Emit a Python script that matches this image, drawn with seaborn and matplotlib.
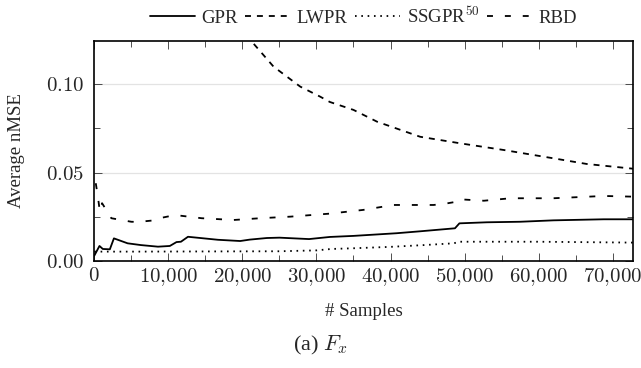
import matplotlib
matplotlib.use("Agg")
import matplotlib.pyplot as plt
import matplotlib.ticker as mticker
import seaborn as sns
import pandas as pd

# values
gpr_x = [0, 700, 1150, 2100, 2650, 4500, 6300, 8600, 10200, 11100, 11700, 12650, 16700,
         19700, 21000, 23300, 25000, 29000, 31800, 35000, 40800, 44000, 48700, 49300,
         53000, 57500, 62000, 68800, 72800]
gpr_y = [0.0030, 0.0085, 0.0068, 0.0066, 0.0128, 0.0100, 0.0090, 0.0081, 0.0085, 0.0107,
         0.0109, 0.0137, 0.0120, 0.0113, 0.0121, 0.0130, 0.0132, 0.0124, 0.0136, 0.0142,
         0.0157, 0.0168, 0.0185, 0.0213, 0.0219, 0.0222, 0.0230, 0.0236, 0.0236]

lwpr_x = [20500, 21300, 24200, 27800, 30500, 31800, 35000, 38200, 44000, 49400, 55300,
          62000, 66500, 72800]
lwpr_y = [0.128, 0.1240, 0.1100, 0.0987, 0.0930, 0.0900, 0.0855, 0.0788, 0.0703, 0.0666,
          0.0628, 0.0581, 0.0549, 0.0522]

ssgpr_x = [0, 5000, 15000, 25000, 30000, 32000, 35000, 40000, 44500, 48500, 49400, 60000,
           72800]
ssgpr_y = [0.0053, 0.0053, 0.0054, 0.0055, 0.0060, 0.0068, 0.0072, 0.0080, 0.0090, 0.0100,
           0.0109, 0.0109, 0.0104]

rbd_x = [200, 500, 750, 1050, 2300, 5000, 5900, 8100, 8800, 10900, 14500, 18800, 22400,
         26500, 31800, 36300, 40400, 45800, 47200, 49000, 49400, 52600, 56200, 62000,
         68800, 72800]
rbd_y = [0.0440, 0.0360, 0.0280, 0.0327, 0.0242, 0.0222, 0.0221, 0.0230, 0.0242, 0.0260,
         0.0242, 0.0232, 0.0242, 0.0251, 0.0268, 0.0289, 0.0317, 0.0317, 0.0323, 0.0336,
         0.0349, 0.0341, 0.0355, 0.0355, 0.0368, 0.0364]

labels = ["GPR", "LWPR", r"SSGPR$^{50}$", "RBD"]

sns.set_theme(style="ticks")
plt.rcParams["font.family"] = ["Liberation Serif", "DejaVu Serif"]
plt.rcParams["mathtext.fontset"] = "cm"

fig = plt.figure(figsize=(6.41, 3.68), dpi=100)
ax = fig.add_axes([0.1471, 0.2908, 0.8411, 0.5978])

lw = 1.3
series = [
    (gpr_x, gpr_y, labels[0], "-"),
    (lwpr_x, lwpr_y, labels[1], (0, (3.3, 3.3))),
    (ssgpr_x, ssgpr_y, labels[2], (0, (0.9, 2.6))),
    (rbd_x, rbd_y, labels[3], (0, (3.3, 6.6))),
]
for xs, ys, name, ls in series:
    df = pd.DataFrame({"x": xs, "y": ys})
    sns.lineplot(data=df, x="x", y="y", ax=ax, color="black", linewidth=lw,
                 linestyle=ls, label=name, legend=False)

ax.set_xlim(0, 72800)
ax.set_ylim(0, 0.1245)

ax.xaxis.set_major_locator(mticker.MultipleLocator(10000))
ax.xaxis.set_minor_locator(mticker.MultipleLocator(5000))
ax.yaxis.set_major_locator(mticker.MultipleLocator(0.05))
ax.yaxis.set_minor_locator(mticker.MultipleLocator(0.025))
ax.xaxis.set_major_formatter(mticker.FuncFormatter(
    lambda v, p: r"$%s$" % ("{:,}".format(int(round(v))).replace(",", "{,}"))))
ax.yaxis.set_major_formatter(mticker.FuncFormatter(lambda v, p: r"$%.2f$" % v))

ax.tick_params(which="both", direction="in", top=True, right=True, color="#333333",
               width=0.6, labelsize=15)
ax.tick_params(axis="y", pad=7.5)
ax.tick_params(axis="x", pad=4)
ax.tick_params(which="major", length=6)
ax.tick_params(which="minor", length=4)
ax.grid(axis="y", which="major", color="#e3e3e3", linewidth=0.9)
ax.set_axisbelow(True)
for s in ax.spines.values():
    s.set_linewidth(1.2)
    s.set_color("black")

ax.set_xlabel("# Samples", fontsize=13.5)
ax.set_ylabel("Average nMSE", fontsize=13.5)
ax.xaxis.set_label_coords(0.5, -0.19)
ax.yaxis.set_label_coords(-0.129, 0.5)

handles, hl = ax.get_legend_handles_labels()
fig.legend(handles, hl, loc="center", bbox_to_anchor=(0.567, 0.955), ncol=4,
           frameon=False, fontsize=13.5, handlelength=2.4, handletextpad=0.35,
           columnspacing=0.4, borderpad=0)

fig.text(0.5, 0.06, r"(a) $F_x$", ha="center", va="center", fontsize=16)

fig.savefig("out.png", dpi=100)
